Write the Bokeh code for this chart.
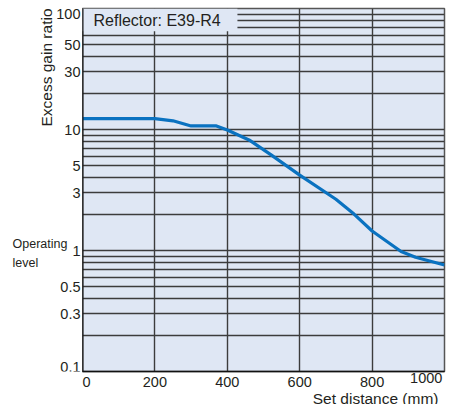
import math
from bokeh.plotting import figure
from bokeh.layouts import row
from bokeh.models import (FixedTicker, Label, BoxAnnotation, Range1d, Grid,
                          LinearAxis, Span, Title)
from bokeh.core.properties import value
from bokeh.embed import file_html
from bokeh.resources import INLINE

# ---- data ----
distance = [0, 200, 250, 300, 370, 400, 460, 520, 600, 700, 750, 800, 880, 920, 1000]
gain = [12.3, 12.3, 11.8, 10.7, 10.7, 9.9, 8.2, 6.2, 4.2, 2.65, 2.0, 1.45, 0.98, 0.88, 0.76]
x_ticks = [0, 200, 400, 600, 800, 1000]
x_tick_labels = ["0", "200", "400", "600", "800", "1000"]
x_grid = [200, 400, 600, 800]
y_ticks = [0.1, 0.3, 0.5, 1, 3, 5, 10, 30, 50, 100]
y_tick_labels = ["0.1", "0.3", "0.5", "1", "3", "5", "10", "30", "50", "100"]
y_grid = [0.2, 0.3, 0.4, 0.5, 0.6, 0.7, 0.8, 0.9, 1, 2, 3, 4, 5, 6, 7, 8, 9,
          10, 20, 30, 40, 50, 60, 70, 80, 90]
legend_text = "Reflector: E39-R4"
x_title = "Set distance (mm)"
y_title = "Excess gain ratio"
level_text = ["Operating", "level"]

FONT = "Liberation Sans"
TXT = "#231F20"
BG = "#DFE7F4"
GRID = "#3c3c3c"
TOP, BOTTOM = 8, 33

# ---- main chart ----
p = figure(width=369, height=404, y_axis_type="log",
           x_range=Range1d(0, 1000), y_range=Range1d(0.1, 100),
           y_axis_location=None,
           output_backend="svg", toolbar_location=None,
           min_border_left=0, min_border_right=7, min_border_top=TOP,
           min_border_bottom=BOTTOM)
p.background_fill_color = BG
p.border_fill_color = "white"
p.outline_line_color = "#555555"
p.outline_line_width = 1.5
for r in list(p.center):
    if isinstance(r, Grid):
        r.visible = False

p.add_layout(Grid(dimension=0, ticker=FixedTicker(ticks=x_grid),
                  grid_line_color=GRID, grid_line_width=1.4))
p.add_layout(Grid(dimension=1, ticker=FixedTicker(ticks=y_grid),
                  grid_line_color=GRID, grid_line_width=1.4))

xa = p.xaxis[0]
xa.ticker = FixedTicker(ticks=x_ticks[:-1])
xa.major_label_overrides = {t: l for t, l in zip(x_ticks[:-1], x_tick_labels[:-1])}
xa.axis_line_color = "#111111"
xa.axis_line_width = 1.5
xa.major_tick_out = 0
xa.major_tick_in = 0
xa.minor_tick_out = 0
xa.minor_tick_in = 0
xa.major_label_text_font = FONT
xa.major_label_text_font_size = "14.5px"
xa.major_label_text_color = TXT
xa.major_label_standoff = 5

# second bottom axis: the last tick label, right aligned
xb = LinearAxis(ticker=FixedTicker(ticks=x_ticks[-1:]),
                major_label_overrides={x_ticks[-1]: x_tick_labels[-1]},
                axis_line_color=None, major_tick_out=0, major_tick_in=0,
                minor_tick_out=0, minor_tick_in=0,
                major_label_text_align="right",
                major_label_standoff=-17,
                major_label_text_font=FONT, major_label_text_font_size="14.5px",
                major_label_text_color=TXT)
p.add_layout(xb, "below")
p.add_layout(Title(text=x_title, align="right", offset=6, standoff=-4,
                   text_font=FONT, text_font_size="15.5px",
                   text_font_style="normal", text_color=TXT), "below")

p.add_layout(Span(location=0, dimension="height", line_color="#111111", line_width=2))

# legend box
p.add_layout(BoxAnnotation(left=0, right=428, bottom=65, top=100, fill_color=BG,
                           fill_alpha=1, line_alpha=0, level="underlay"))
p.add_layout(Label(x=0, y=80, x_offset=11, text=legend_text, text_font=FONT,
                   text_font_size="16px", text_color=TXT, text_baseline="middle"))

# curve
p.line(distance, gain, line_color="#0A72C0", line_width=3.2)

# ---- left strip: y tick labels and titles ----
q = figure(width=82, height=404, y_axis_type="log",
           x_range=Range1d(0, 82), y_range=p.y_range,
           x_axis_location=None, y_axis_location=None,
           output_backend="svg", toolbar_location=None,
           min_border_left=0, min_border_right=0, min_border_top=TOP,
           min_border_bottom=BOTTOM)
q.outline_line_color = None
q.background_fill_color = "white"
q.border_fill_color = "white"
for r in list(q.center):
    if isinstance(r, Grid):
        r.visible = False

tick_style = dict(text_font=value(FONT), text_font_size="14.5px",
                  text_color=TXT, text_align="right")
q.text(x=80, y=y_ticks[1:-1], text=y_tick_labels[1:-1], text_baseline="middle",
       **tick_style)
q.text(x=80, y=y_ticks[-1:], text=y_tick_labels[-1:], text_baseline="top",
       **tick_style)
q.text(x=80, y=y_ticks[:1], text=y_tick_labels[:1], text_baseline="bottom",
       **tick_style)

q.add_layout(Label(x=46, y=100, text=y_title, angle=math.pi / 2,
                   text_font=FONT, text_font_size="15.5px", text_color=TXT,
                   text_align="right", text_baseline="middle"))
q.add_layout(Label(x=12, y=1, y_offset=7, text=level_text[0],
                   text_font=FONT, text_font_size="12.5px", text_color=TXT,
                   text_baseline="middle"))
q.add_layout(Label(x=12, y=1, y_offset=-12, text=level_text[1],
                   text_font=FONT, text_font_size="12.5px", text_color=TXT,
                   text_baseline="middle"))

layout = row(q, p, spacing=0)
open("out.html", "w").write(file_html(layout, INLINE))
